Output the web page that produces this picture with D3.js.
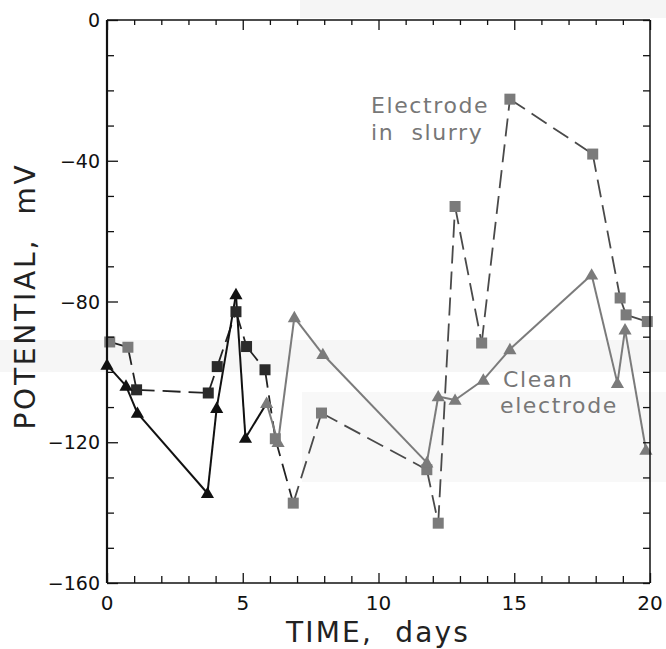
<!DOCTYPE html>
<html>
<head>
<meta charset="utf-8">
<script src="https://cdn.jsdelivr.net/npm/d3@7"></script>
<style>
  body { margin: 0; background: #fff; }
  text { font-family: "DejaVu Sans", sans-serif; white-space: pre; }
</style>
</head>
<body>
<div id="chart"></div>
<script>
// Clean electrode (triangles, solid line)
var cleanDays = [0, 0.7, 1.12, 3.7, 4.04, 4.75, 5.1, 5.88, 6.3, 6.9, 7.95, 11.78, 12.2, 12.82, 13.86, 14.84, 17.85, 18.8, 19.08, 19.85];
var cleanMv   = [-98, -104, -111.7, -134.5, -110.3, -78, -118.8, -108.9, -120, -84.5, -95, -125.8, -107, -108, -102.3, -93.6, -72.4, -103.2, -88, -122.2];
// Electrode in slurry (squares, dashed line)
var slurryDays = [0.1, 0.77, 1.09, 3.73, 4.06, 4.75, 5.14, 5.82, 6.2, 6.86, 7.9, 11.78, 12.2, 12.82, 13.8, 14.84, 17.89, 18.9, 19.12, 19.9];
var slurryMv   = [-91.5, -93, -105.1, -106, -98.5, -82.9, -92.8, -99.4, -119, -137.3, -111.7, -127.8, -143, -53, -91.8, -22.5, -38.1, -79, -83.8, -85.7];

var xTicks = [0, 5, 10, 15, 20];
var yTicks = [0, -40, -80, -120, -160];

var W = 666, H = 649;
var x = d3.scaleLinear().domain([0, 20]).range([107, 650]);
var y = d3.scaleLinear().domain([-160, 0]).range([583, 20]);

var svg = d3.select("#chart").append("svg")
    .attr("width", W)
    .attr("height", H);

// faint scan bands of the original print
svg.append("rect").attr("x", 300).attr("y", 0).attr("width", 366).attr("height", 18).attr("fill", "#f5f5f5");
svg.append("rect").attr("x", 0).attr("y", 340).attr("width", 666).attr("height", 32).attr("fill", "#f6f6f6");
svg.append("rect").attr("x", 302).attr("y", 392).attr("width", 364).attr("height", 90).attr("fill", "#f8f8f8");

var clean = cleanDays.map(function(d, i){ return {x: d, y: cleanMv[i], i: i}; });
var slurry = slurryDays.map(function(d, i){ return {x: d, y: slurryMv[i], i: i}; });

// colours: the early part of the print is black, the rest grey
function cleanCol(i){ return i <= 6 ? "#111" : "#7b7b7b"; }
function slurryMarkCol(i){ return (i >= 2 && i <= 7) ? "#2a2a2a" : "#7b7b7b"; }
function slurryLineCol(i){ return i <= 8 ? "#222" : "#4a4a4a"; }

var plot = svg.append("g");

// slurry dashed segments
plot.selectAll("line.slurry").data(slurry.slice(0, -1)).enter().append("line")
    .attr("class", "slurry")
    .attr("x1", function(d){ return x(d.x); })
    .attr("y1", function(d){ return y(d.y); })
    .attr("x2", function(d){ return x(slurry[d.i + 1].x); })
    .attr("y2", function(d){ return y(slurry[d.i + 1].y); })
    .attr("stroke", function(d){ return slurryLineCol(d.i); })
    .attr("stroke-width", 1.8)
    .attr("stroke-dasharray", "18,8");

// clean solid segments
plot.selectAll("line.clean").data(clean.slice(0, -1)).enter().append("line")
    .attr("class", "clean")
    .attr("x1", function(d){ return x(d.x); })
    .attr("y1", function(d){ return y(d.y); })
    .attr("x2", function(d){ return x(clean[d.i + 1].x); })
    .attr("y2", function(d){ return y(clean[d.i + 1].y); })
    .attr("stroke", function(d){ return cleanCol(d.i); })
    .attr("stroke-width", 2);

// square markers
plot.selectAll("rect.sq").data(slurry).enter().append("rect")
    .attr("class", "sq")
    .attr("x", function(d){ return x(d.x) - 5.5; })
    .attr("y", function(d){ return y(d.y) - 5.5; })
    .attr("width", 11)
    .attr("height", 11)
    .attr("fill", function(d){ return slurryMarkCol(d.i); });

// triangle markers
var tri = d3.symbol().type(d3.symbolTriangle).size(75);
plot.selectAll("path.tri").data(clean).enter().append("path")
    .attr("class", "tri")
    .attr("transform", function(d){ return "translate(" + x(d.x) + "," + (y(d.y) + 1) + ")"; })
    .attr("d", tri)
    .attr("fill", function(d){ return cleanCol(d.i); });

// frame
var frame = svg.append("g").attr("stroke", "#111").attr("fill", "none");
frame.append("line").attr("x1", x(0)).attr("x2", x(0)).attr("y1", y(0)).attr("y2", y(-160)).attr("stroke-width", 2.2);
frame.append("line").attr("x1", x(0)).attr("x2", x(20)).attr("y1", y(-160)).attr("y2", y(-160)).attr("stroke-width", 1.6);
frame.append("line").attr("x1", x(0)).attr("x2", x(20)).attr("y1", y(0)).attr("y2", y(0)).attr("stroke-width", 1.4);
frame.append("line").attr("x1", x(20)).attr("x2", x(20)).attr("y1", y(0)).attr("y2", y(-160)).attr("stroke-width", 1.5);

// axes with inward ticks
var fmt = function(d){ return d < 0 ? "\u2212" + Math.abs(d) : d; };
var minorX = d3.range(0, 21, 1), minorY = d3.range(-160, 1, 10);

var axBottom = svg.append("g").attr("transform", "translate(0," + y(-160) + ")")
    .call(d3.axisTop(x).tickValues(minorX).tickSize(7).tickFormat(""));
var axTop = svg.append("g").attr("transform", "translate(0," + y(0) + ")")
    .call(d3.axisBottom(x).tickValues(minorX).tickSize(5).tickFormat(""));
var axLeft = svg.append("g").attr("transform", "translate(" + x(0) + ",0)")
    .call(d3.axisRight(y).tickValues(minorY).tickSize(7).tickFormat(""));
var axRight = svg.append("g").attr("transform", "translate(" + x(20) + ",0)")
    .call(d3.axisLeft(y).tickValues(minorY).tickSize(7).tickFormat(""));
[axBottom, axTop, axLeft, axRight].forEach(function(g){
    g.select(".domain").remove();
    g.selectAll(".tick line").attr("stroke", "#111").attr("stroke-width", 1.3);
});
// major ticks longer
axBottom.selectAll(".tick line").filter(function(d){ return d % 5 === 0; }).attr("y2", -10);
axTop.selectAll(".tick line").filter(function(d){ return d % 5 === 0; }).attr("y2", 10);
axLeft.selectAll(".tick line").filter(function(d){ return d % 40 === 0; }).attr("x2", 11);

// tick labels
svg.append("g").selectAll("text").data(xTicks).enter().append("text")
    .attr("x", function(d){ return x(d); })
    .attr("y", 610)
    .attr("text-anchor", "middle")
    .attr("font-size", 20)
    .attr("fill", "#111")
    .text(function(d){ return d; });
svg.append("g").selectAll("text").data(yTicks).enter().append("text")
    .attr("x", 100)
    .attr("y", function(d){ return y(d) + 7; })
    .attr("text-anchor", "end")
    .attr("font-size", 19)
    .attr("fill", "#111")
    .text(fmt);

// axis titles
svg.append("text")
    .attr("x", 378).attr("y", 642)
    .attr("text-anchor", "middle")
    .attr("font-size", 28)
    .attr("letter-spacing", 2.2)
    .attr("fill", "#222")
    .text("TIME,  days");
svg.append("text")
    .attr("transform", "translate(35,296) rotate(-90)")
    .attr("text-anchor", "middle")
    .attr("font-size", 28)
    .attr("letter-spacing", 2.8)
    .attr("fill", "#222")
    .text("POTENTIAL,  mV");

// series labels
var lab = svg.append("g").attr("fill", "#777").attr("font-size", 22).attr("letter-spacing", 1.6);
lab.append("text").attr("x", 371).attr("y", 113).text("Electrode");
lab.append("text").attr("x", 371).attr("y", 140).text("in  slurry");
lab.append("text").attr("x", 503).attr("y", 387).text("Clean");
lab.append("text").attr("x", 500).attr("y", 413).text("electrode");
</script>
</body>
</html>
